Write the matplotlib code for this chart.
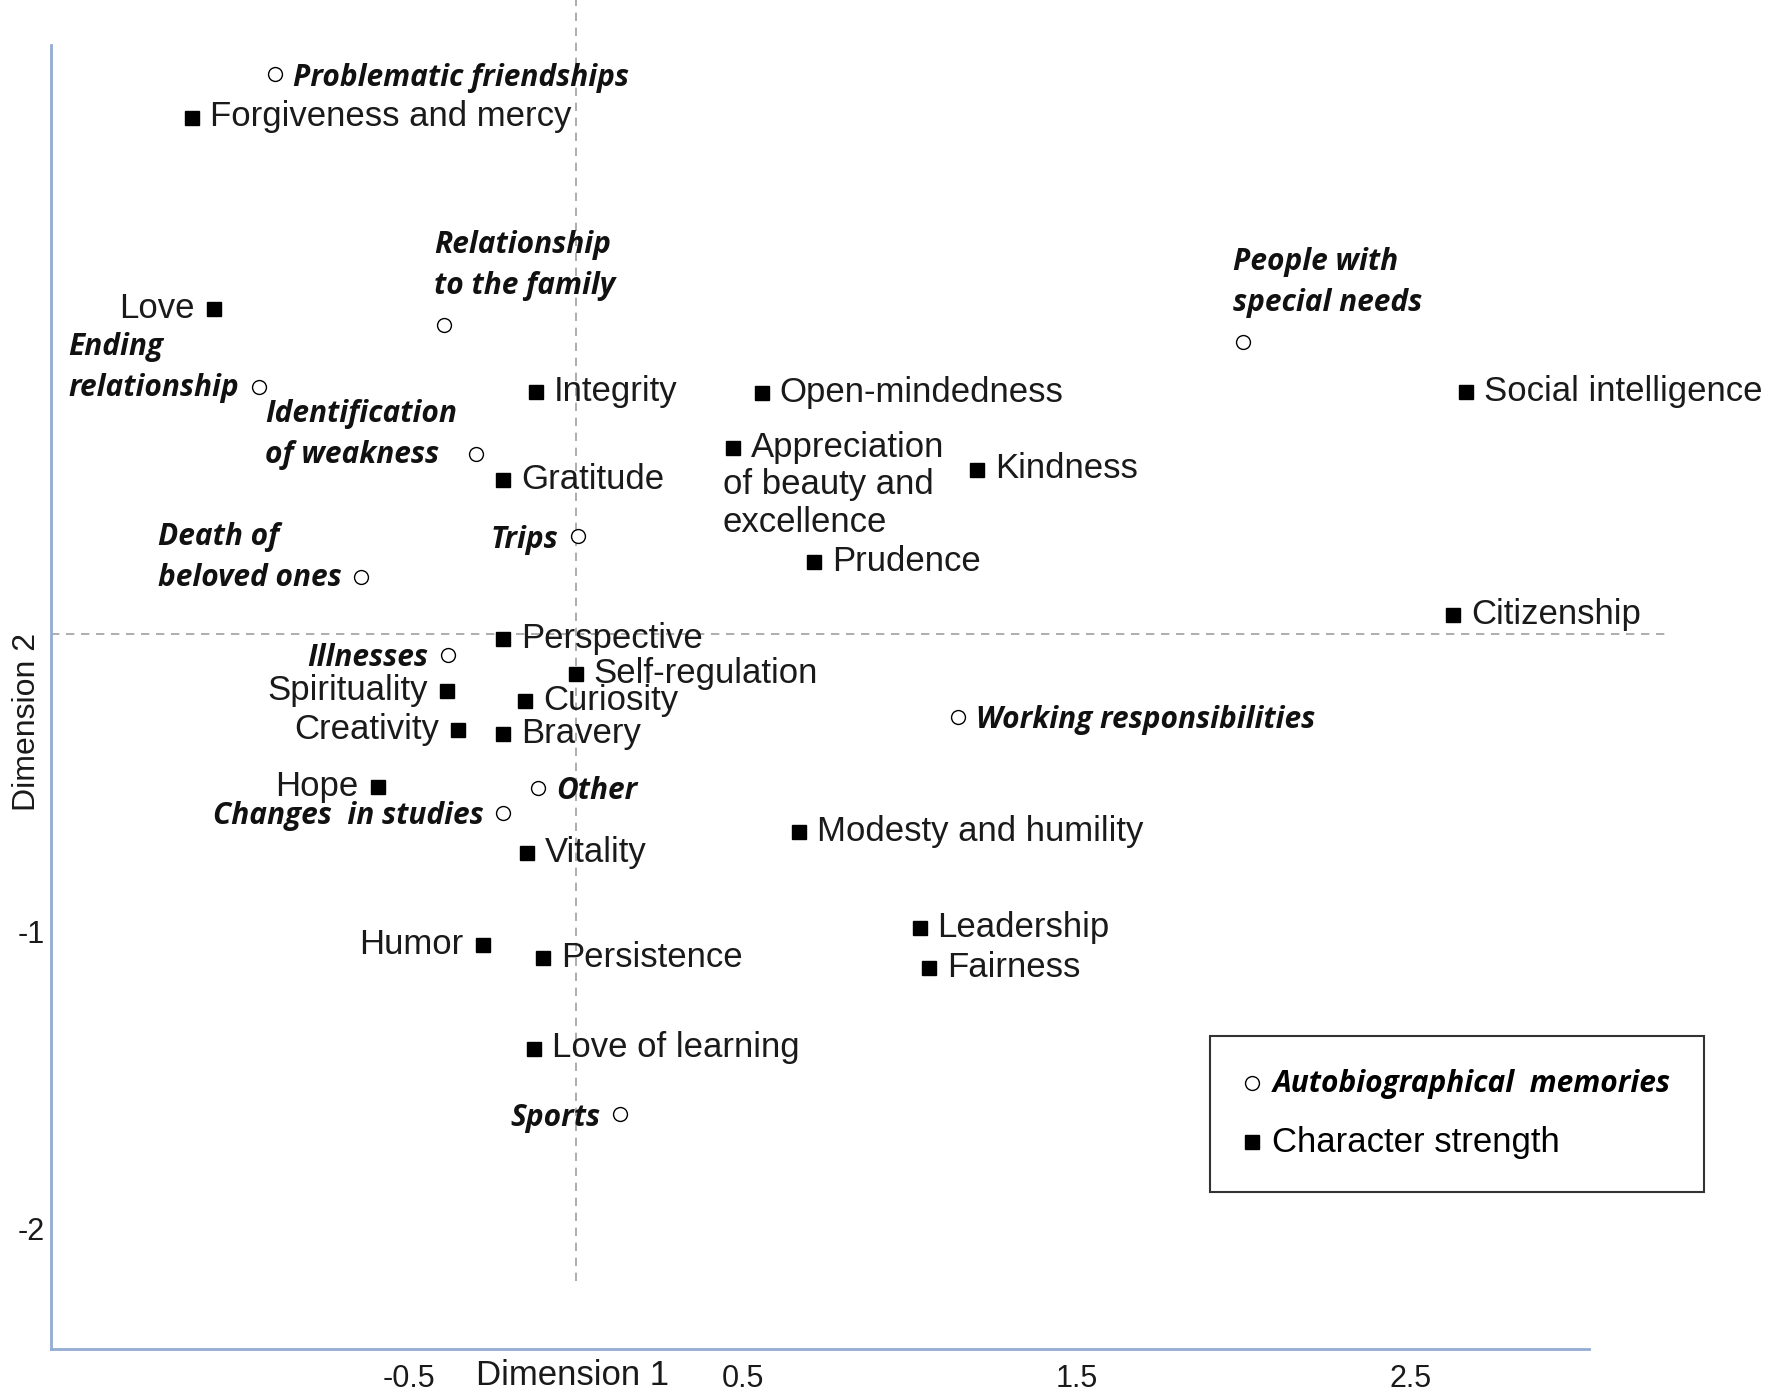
import matplotlib
matplotlib.use("Agg")
import matplotlib.pyplot as plt
from matplotlib.lines import Line2D
from matplotlib.font_manager import FontProperties

# Character strengths (filled squares)
strengths = ["Forgiveness and mercy", "Love", "Integrity", "Open-mindedness",
             "Social intelligence", "Appreciation\nof beauty and\nexcellence",
             "Kindness", "Gratitude", "Prudence", "Citizenship", "Perspective",
             "Self-regulation", "Spirituality", "Curiosity", "Creativity",
             "Bravery", "Hope", "Vitality", "Modesty and humility", "Humor",
             "Persistence", "Leadership", "Fairness", "Love of learning"]
strength_x = [-1.149, -1.081, -0.118, 0.557, 2.666, 0.470, 1.203, -0.216, 0.713,
              2.628, -0.216, 0.000, -0.385, -0.152, -0.351, -0.216, -0.591,
              -0.145, 0.669, -0.277, -0.098, 1.030, 1.057, -0.125]
strength_y = [1.741, 1.095, 0.817, 0.814, 0.817, 0.627, 0.555, 0.521, 0.243,
              0.065, -0.015, -0.133, -0.190, -0.224, -0.323, -0.335, -0.513,
              -0.738, -0.665, -1.046, -1.091, -0.989, -1.125, -1.395]
strength_side = ["r", "l", "r", "r", "r", "wrap", "r", "r", "r", "r", "r", "r",
                 "l", "r", "l", "r", "l", "r", "r", "l", "r", "r", "r", "r"]

# Autobiographical memories (open circles)
memories = ["Problematic friendships", "Relationship\nto the family",
            "Ending\nrelationship", "People with\nspecial needs",
            "Identification\nof weakness", "Trips", "Death of\nbeloved ones",
            "Illnesses", "Working responsibilities", "Other",
            "Changes  in studies", "Sports"]
memory_x = [-0.899, -0.395, -0.949, 1.997, -0.297, 0.007, -0.642, -0.382,
            1.145, -0.111, -0.216, 0.132]
memory_y = [1.886, 1.042, 0.833, 0.985, 0.608, 0.331, 0.194, -0.068, -0.278,
            -0.517, -0.601, -1.616]
memory_side = ["r", "top", "l2", "top", "l2", "l", "l2", "l", "r", "r", "l", "l"]

x_ticks = [-0.5, 0.5, 1.5, 2.5]
y_ticks = [-1, -2]

sans = ["Liberation Sans", "DejaVu Sans"]
bold_fam = ["Open Sans", "DejaVu Sans"]
regular = dict(family=sans, size=25, color="#1a1a1a")
bold_it = dict(family=bold_fam, weight="bold", style="italic",
               size=21.5, color="#111111")

fig = plt.figure(figsize=(17.7, 13.96), dpi=100)
ax = fig.add_axes([0.0287, 0.0337, 0.869, 0.934])
ax.set_xlim(-1.571, 3.034)
ax.set_ylim(-2.407, 1.985)

for s in ["top", "right"]:
    ax.spines[s].set_visible(False)
for s in ["left", "bottom"]:
    ax.spines[s].set_color("#93acd2")
    ax.spines[s].set_linewidth(2)

ax.axvline(0, ymin=0.052, ymax=1.035, color="#a0a0a0", lw=1.2,
           ls=(0, (5, 4)), clip_on=False, zorder=0)
ax.axhline(0, xmin=0, xmax=1.051, color="#a0a0a0", lw=1.2,
           ls=(0, (5, 4)), clip_on=False, zorder=0)

ax.set_xticks(x_ticks)
ax.set_xticklabels([str(t) for t in x_ticks])
ax.set_yticks(y_ticks)
ax.set_yticklabels([str(t) for t in y_ticks])
ax.tick_params(length=0, labelsize=22, labelcolor="#1a1a1a")
ax.tick_params(axis="x", pad=11)
ax.tick_params(axis="y", pad=4)
for lab in ax.get_xticklabels() + ax.get_yticklabels():
    lab.set_family(sans)

ax.set_xlabel("Dimension 1", fontsize=25, family=sans, color="#1a1a1a")
ax.xaxis.set_label_coords(0.339, -0.008)
ax.set_ylabel("Dimension 2", fontsize=23, family=sans, color="#1a1a1a")
ax.yaxis.set_label_coords(-0.006, 0.481)

ax.plot(strength_x, strength_y, ls="none", marker="s", ms=9.5, color="black",
        clip_on=False, zorder=3)
ax.plot(memory_x, memory_y, ls="none", marker="o", ms=10, mfc="white",
        mec="black", mew=1.0, clip_on=False, zorder=3)


def place(label, x, y, side, font, dy):
    kw = dict(textcoords="offset points", annotation_clip=False, **font)
    if side == "r":
        ax.annotate(label, (x, y), xytext=(13, dy), ha="left",
                    va="center_baseline", **kw)
    elif side == "l":
        ax.annotate(label, (x, y), xytext=(-14, dy), ha="right",
                    va="center_baseline", **kw)
    elif side == "l2":
        ax.annotate(label, (x, y), xytext=(-14, 14), ha="right", ma="left",
                    va="center", linespacing=1.5, **kw)
    elif side == "top":
        ax.annotate(label, (x, y), xytext=(-7, 17), ha="left", va="bottom",
                    linespacing=1.5, **kw)
    elif side == "wrap":
        first, rest = label.split("\n", 1)
        ax.annotate(first, (x, y), xytext=(13, dy), ha="left",
                    va="center_baseline", **kw)
        ax.annotate(rest, (x, y), xytext=(-7, -14), ha="left", va="top",
                    linespacing=1.2, **kw)


for lab, x, y, side in zip(strengths, strength_x, strength_y, strength_side):
    place(lab, x, y, side, regular, 3)
for lab, x, y, side in zip(memories, memory_x, memory_y, memory_side):
    place(lab, x, y, side, bold_it, 0)

handles = [Line2D([], [], ls="none", marker="o", ms=10, mfc="white",
                  mec="black", mew=1.0),
           Line2D([], [], ls="none", marker="s", ms=9.5, color="black")]
leg = ax.legend(handles, ["Autobiographical  memories", "Character strength"],
                loc="upper left", bbox_to_anchor=(0.6836, 0.2579),
                bbox_transform=fig.transFigure, borderaxespad=0, fontsize=20,
                frameon=True, fancybox=False, edgecolor="black", borderpad=1.2,
                labelspacing=0.95, handlelength=0.6, handletextpad=0.45)
leg.get_frame().set_linewidth(1.5)
t0, t1 = leg.get_texts()
t0.set_fontproperties(FontProperties(family=bold_fam, weight="bold",
                                     style="italic", size=21.5))
t1.set_fontproperties(FontProperties(family=sans, size=25))

fig.savefig("out.png", dpi=100)
